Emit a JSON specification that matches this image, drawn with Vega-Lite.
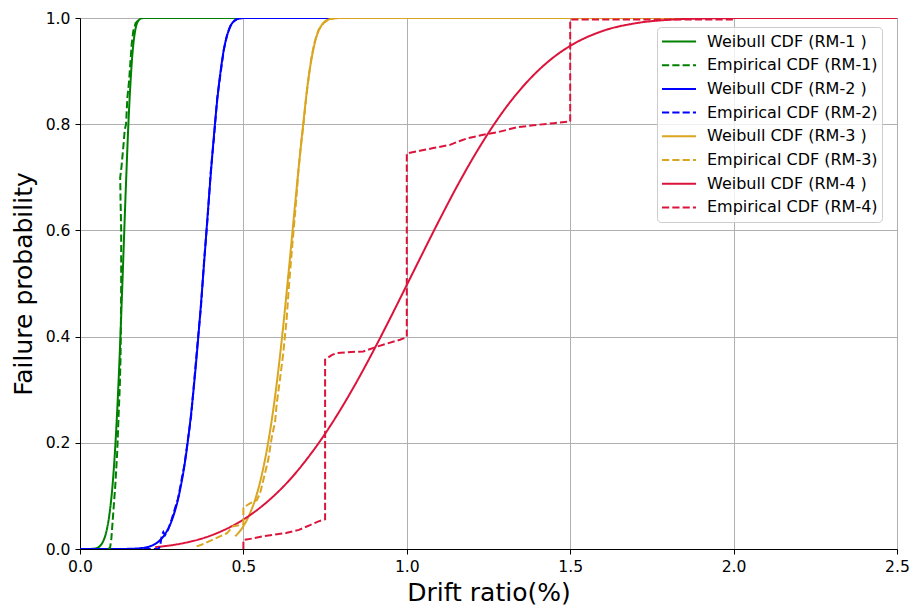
{
  "$schema": "https://vega.github.io/schema/vega-lite/v6.json",
  "width": 817,
  "height": 531,
  "autosize": {"type": "none"},
  "padding": {"left": 80, "top": 18, "right": 14, "bottom": 60},
  "background": "white",
  "datasets": {
    "weibull": [
      {"series": "Weibull CDF (RM-1 )", "drift": 0, "prob": 0},
      {"series": "Weibull CDF (RM-1 )", "drift": 0.03, "prob": 0.0001},
      {"series": "Weibull CDF (RM-1 )", "drift": 0.05, "prob": 0.0016},
      {"series": "Weibull CDF (RM-1 )", "drift": 0.06, "prob": 0.005},
      {"series": "Weibull CDF (RM-1 )", "drift": 0.07, "prob": 0.0134},
      {"series": "Weibull CDF (RM-1 )", "drift": 0.08, "prob": 0.031},
      {"series": "Weibull CDF (RM-1 )", "drift": 0.09, "prob": 0.065},
      {"series": "Weibull CDF (RM-1 )", "drift": 0.1, "prob": 0.123},
      {"series": "Weibull CDF (RM-1 )", "drift": 0.11, "prob": 0.215},
      {"series": "Weibull CDF (RM-1 )", "drift": 0.12, "prob": 0.344},
      {"series": "Weibull CDF (RM-1 )", "drift": 0.13, "prob": 0.505},
      {"series": "Weibull CDF (RM-1 )", "drift": 0.14, "prob": 0.676},
      {"series": "Weibull CDF (RM-1 )", "drift": 0.15, "prob": 0.826},
      {"series": "Weibull CDF (RM-1 )", "drift": 0.16, "prob": 0.929},
      {"series": "Weibull CDF (RM-1 )", "drift": 0.17, "prob": 0.98},
      {"series": "Weibull CDF (RM-1 )", "drift": 0.18, "prob": 0.996},
      {"series": "Weibull CDF (RM-1 )", "drift": 0.19, "prob": 0.9996},
      {"series": "Weibull CDF (RM-1 )", "drift": 0.2, "prob": 1},
      {"series": "Weibull CDF (RM-1 )", "drift": 0.3, "prob": 1},
      {"series": "Weibull CDF (RM-1 )", "drift": 2.5, "prob": 1},

      {"series": "Weibull CDF (RM-2 )", "drift": 0, "prob": 0},
      {"series": "Weibull CDF (RM-2 )", "drift": 0.1, "prob": 0},
      {"series": "Weibull CDF (RM-2 )", "drift": 0.15, "prob": 0.0003},
      {"series": "Weibull CDF (RM-2 )", "drift": 0.2, "prob": 0.0028},
      {"series": "Weibull CDF (RM-2 )", "drift": 0.22, "prob": 0.0065},
      {"series": "Weibull CDF (RM-2 )", "drift": 0.24, "prob": 0.0139},
      {"series": "Weibull CDF (RM-2 )", "drift": 0.26, "prob": 0.0278},
      {"series": "Weibull CDF (RM-2 )", "drift": 0.28, "prob": 0.0524},
      {"series": "Weibull CDF (RM-2 )", "drift": 0.3, "prob": 0.0938},
      {"series": "Weibull CDF (RM-2 )", "drift": 0.32, "prob": 0.159},
      {"series": "Weibull CDF (RM-2 )", "drift": 0.33, "prob": 0.203},
      {"series": "Weibull CDF (RM-2 )", "drift": 0.34, "prob": 0.255},
      {"series": "Weibull CDF (RM-2 )", "drift": 0.35, "prob": 0.316},
      {"series": "Weibull CDF (RM-2 )", "drift": 0.36, "prob": 0.385},
      {"series": "Weibull CDF (RM-2 )", "drift": 0.37, "prob": 0.46},
      {"series": "Weibull CDF (RM-2 )", "drift": 0.38, "prob": 0.541},
      {"series": "Weibull CDF (RM-2 )", "drift": 0.39, "prob": 0.624},
      {"series": "Weibull CDF (RM-2 )", "drift": 0.4, "prob": 0.705},
      {"series": "Weibull CDF (RM-2 )", "drift": 0.41, "prob": 0.78},
      {"series": "Weibull CDF (RM-2 )", "drift": 0.42, "prob": 0.846},
      {"series": "Weibull CDF (RM-2 )", "drift": 0.43, "prob": 0.899},
      {"series": "Weibull CDF (RM-2 )", "drift": 0.44, "prob": 0.94},
      {"series": "Weibull CDF (RM-2 )", "drift": 0.45, "prob": 0.967},
      {"series": "Weibull CDF (RM-2 )", "drift": 0.46, "prob": 0.984},
      {"series": "Weibull CDF (RM-2 )", "drift": 0.48, "prob": 0.9976},
      {"series": "Weibull CDF (RM-2 )", "drift": 0.5, "prob": 0.9998},
      {"series": "Weibull CDF (RM-2 )", "drift": 0.55, "prob": 1},
      {"series": "Weibull CDF (RM-2 )", "drift": 2.5, "prob": 1},

      {"series": "Weibull CDF (RM-3 )", "drift": 0.475, "prob": 0.024},
      {"series": "Weibull CDF (RM-3 )", "drift": 0.5, "prob": 0.043},
      {"series": "Weibull CDF (RM-3 )", "drift": 0.52, "prob": 0.067},
      {"series": "Weibull CDF (RM-3 )", "drift": 0.54, "prob": 0.101},
      {"series": "Weibull CDF (RM-3 )", "drift": 0.56, "prob": 0.15},
      {"series": "Weibull CDF (RM-3 )", "drift": 0.58, "prob": 0.216},
      {"series": "Weibull CDF (RM-3 )", "drift": 0.6, "prob": 0.302},
      {"series": "Weibull CDF (RM-3 )", "drift": 0.62, "prob": 0.409},
      {"series": "Weibull CDF (RM-3 )", "drift": 0.64, "prob": 0.532},
      {"series": "Weibull CDF (RM-3 )", "drift": 0.66, "prob": 0.661},
      {"series": "Weibull CDF (RM-3 )", "drift": 0.68, "prob": 0.783},
      {"series": "Weibull CDF (RM-3 )", "drift": 0.7, "prob": 0.89},
      {"series": "Weibull CDF (RM-3 )", "drift": 0.72, "prob": 0.957},
      {"series": "Weibull CDF (RM-3 )", "drift": 0.74, "prob": 0.987},
      {"series": "Weibull CDF (RM-3 )", "drift": 0.76, "prob": 0.997},
      {"series": "Weibull CDF (RM-3 )", "drift": 0.78, "prob": 0.9994},
      {"series": "Weibull CDF (RM-3 )", "drift": 0.8, "prob": 1},
      {"series": "Weibull CDF (RM-3 )", "drift": 2.5, "prob": 1},

      {"series": "Weibull CDF (RM-4 )", "drift": 0.23, "prob": 0.0035},
      {"series": "Weibull CDF (RM-4 )", "drift": 0.3, "prob": 0.0091},
      {"series": "Weibull CDF (RM-4 )", "drift": 0.4, "prob": 0.0253},
      {"series": "Weibull CDF (RM-4 )", "drift": 0.5, "prob": 0.0555},
      {"series": "Weibull CDF (RM-4 )", "drift": 0.55, "prob": 0.0773},
      {"series": "Weibull CDF (RM-4 )", "drift": 0.6, "prob": 0.104},
      {"series": "Weibull CDF (RM-4 )", "drift": 0.65, "prob": 0.136},
      {"series": "Weibull CDF (RM-4 )", "drift": 0.7, "prob": 0.174},
      {"series": "Weibull CDF (RM-4 )", "drift": 0.75, "prob": 0.217},
      {"series": "Weibull CDF (RM-4 )", "drift": 0.8, "prob": 0.2655},
      {"series": "Weibull CDF (RM-4 )", "drift": 0.85, "prob": 0.3186},
      {"series": "Weibull CDF (RM-4 )", "drift": 0.9, "prob": 0.3757},
      {"series": "Weibull CDF (RM-4 )", "drift": 0.95, "prob": 0.4356},
      {"series": "Weibull CDF (RM-4 )", "drift": 1.0, "prob": 0.4972},
      {"series": "Weibull CDF (RM-4 )", "drift": 1.05, "prob": 0.559},
      {"series": "Weibull CDF (RM-4 )", "drift": 1.1, "prob": 0.62},
      {"series": "Weibull CDF (RM-4 )", "drift": 1.15, "prob": 0.6788},
      {"series": "Weibull CDF (RM-4 )", "drift": 1.2, "prob": 0.7337},
      {"series": "Weibull CDF (RM-4 )", "drift": 1.25, "prob": 0.7838},
      {"series": "Weibull CDF (RM-4 )", "drift": 1.3, "prob": 0.8286},
      {"series": "Weibull CDF (RM-4 )", "drift": 1.35, "prob": 0.8672},
      {"series": "Weibull CDF (RM-4 )", "drift": 1.4, "prob": 0.8998},
      {"series": "Weibull CDF (RM-4 )", "drift": 1.45, "prob": 0.9265},
      {"series": "Weibull CDF (RM-4 )", "drift": 1.5, "prob": 0.9475},
      {"series": "Weibull CDF (RM-4 )", "drift": 1.6, "prob": 0.9757},
      {"series": "Weibull CDF (RM-4 )", "drift": 1.7, "prob": 0.9901},
      {"series": "Weibull CDF (RM-4 )", "drift": 1.8, "prob": 0.9966},
      {"series": "Weibull CDF (RM-4 )", "drift": 1.9, "prob": 0.999},
      {"series": "Weibull CDF (RM-4 )", "drift": 2.0, "prob": 0.9998},
      {"series": "Weibull CDF (RM-4 )", "drift": 2.2, "prob": 1},
      {"series": "Weibull CDF (RM-4 )", "drift": 2.5, "prob": 1}
    ],
    "empirical": [
      {"series": "Empirical CDF (RM-1)", "drift": 0.085, "prob": 0},
      {"series": "Empirical CDF (RM-1)", "drift": 0.092, "prob": 0.002},
      {"series": "Empirical CDF (RM-1)", "drift": 0.096, "prob": 0.02},
      {"series": "Empirical CDF (RM-1)", "drift": 0.102, "prob": 0.07},
      {"series": "Empirical CDF (RM-1)", "drift": 0.108, "prob": 0.12},
      {"series": "Empirical CDF (RM-1)", "drift": 0.114, "prob": 0.184},
      {"series": "Empirical CDF (RM-1)", "drift": 0.118, "prob": 0.25},
      {"series": "Empirical CDF (RM-1)", "drift": 0.122, "prob": 0.31},
      {"series": "Empirical CDF (RM-1)", "drift": 0.124, "prob": 0.36},
      {"series": "Empirical CDF (RM-1)", "drift": 0.125, "prob": 0.41},
      {"series": "Empirical CDF (RM-1)", "drift": 0.126, "prob": 0.5},
      {"series": "Empirical CDF (RM-1)", "drift": 0.126, "prob": 0.6},
      {"series": "Empirical CDF (RM-1)", "drift": 0.124, "prob": 0.66},
      {"series": "Empirical CDF (RM-1)", "drift": 0.123, "prob": 0.7},
      {"series": "Empirical CDF (RM-1)", "drift": 0.127, "prob": 0.72},
      {"series": "Empirical CDF (RM-1)", "drift": 0.133, "prob": 0.76},
      {"series": "Empirical CDF (RM-1)", "drift": 0.137, "prob": 0.79},
      {"series": "Empirical CDF (RM-1)", "drift": 0.141, "prob": 0.8},
      {"series": "Empirical CDF (RM-1)", "drift": 0.145, "prob": 0.85},
      {"series": "Empirical CDF (RM-1)", "drift": 0.15, "prob": 0.88},
      {"series": "Empirical CDF (RM-1)", "drift": 0.153, "prob": 0.906},
      {"series": "Empirical CDF (RM-1)", "drift": 0.158, "prob": 0.95},
      {"series": "Empirical CDF (RM-1)", "drift": 0.163, "prob": 0.975},
      {"series": "Empirical CDF (RM-1)", "drift": 0.17, "prob": 0.99},
      {"series": "Empirical CDF (RM-1)", "drift": 0.184, "prob": 1},

      {"series": "Empirical CDF (RM-2)", "drift": 0.1, "prob": 0},
      {"series": "Empirical CDF (RM-2)", "drift": 0.24, "prob": 0},
      {"series": "Empirical CDF (RM-2)", "drift": 0.245, "prob": 0.005},
      {"series": "Empirical CDF (RM-2)", "drift": 0.25, "prob": 0.025},
      {"series": "Empirical CDF (RM-2)", "drift": 0.255, "prob": 0.032},
      {"series": "Empirical CDF (RM-2)", "drift": 0.26, "prob": 0.026},
      {"series": "Empirical CDF (RM-2)", "drift": 0.27, "prob": 0.037},
      {"series": "Empirical CDF (RM-2)", "drift": 0.28, "prob": 0.055},
      {"series": "Empirical CDF (RM-2)", "drift": 0.3, "prob": 0.095},
      {"series": "Empirical CDF (RM-2)", "drift": 0.32, "prob": 0.16},
      {"series": "Empirical CDF (RM-2)", "drift": 0.33, "prob": 0.205},
      {"series": "Empirical CDF (RM-2)", "drift": 0.34, "prob": 0.25},
      {"series": "Empirical CDF (RM-2)", "drift": 0.35, "prob": 0.32},
      {"series": "Empirical CDF (RM-2)", "drift": 0.36, "prob": 0.39},
      {"series": "Empirical CDF (RM-2)", "drift": 0.37, "prob": 0.455},
      {"series": "Empirical CDF (RM-2)", "drift": 0.38, "prob": 0.545},
      {"series": "Empirical CDF (RM-2)", "drift": 0.39, "prob": 0.62},
      {"series": "Empirical CDF (RM-2)", "drift": 0.4, "prob": 0.71},
      {"series": "Empirical CDF (RM-2)", "drift": 0.41, "prob": 0.775},
      {"series": "Empirical CDF (RM-2)", "drift": 0.42, "prob": 0.85},
      {"series": "Empirical CDF (RM-2)", "drift": 0.43, "prob": 0.895},
      {"series": "Empirical CDF (RM-2)", "drift": 0.44, "prob": 0.94},
      {"series": "Empirical CDF (RM-2)", "drift": 0.45, "prob": 0.968},
      {"series": "Empirical CDF (RM-2)", "drift": 0.46, "prob": 0.985},
      {"series": "Empirical CDF (RM-2)", "drift": 0.47, "prob": 0.993},
      {"series": "Empirical CDF (RM-2)", "drift": 0.48, "prob": 0.998},
      {"series": "Empirical CDF (RM-2)", "drift": 0.49, "prob": 1},

      {"series": "Empirical CDF (RM-3)", "drift": 0.357, "prob": 0.005},
      {"series": "Empirical CDF (RM-3)", "drift": 0.38, "prob": 0.01},
      {"series": "Empirical CDF (RM-3)", "drift": 0.418, "prob": 0.021},
      {"series": "Empirical CDF (RM-3)", "drift": 0.45, "prob": 0.03},
      {"series": "Empirical CDF (RM-3)", "drift": 0.469, "prob": 0.043},
      {"series": "Empirical CDF (RM-3)", "drift": 0.49, "prob": 0.045},
      {"series": "Empirical CDF (RM-3)", "drift": 0.5, "prob": 0.047},
      {"series": "Empirical CDF (RM-3)", "drift": 0.5, "prob": 0.077},
      {"series": "Empirical CDF (RM-3)", "drift": 0.51, "prob": 0.082},
      {"series": "Empirical CDF (RM-3)", "drift": 0.52, "prob": 0.086},
      {"series": "Empirical CDF (RM-3)", "drift": 0.541, "prob": 0.092},
      {"series": "Empirical CDF (RM-3)", "drift": 0.551, "prob": 0.105},
      {"series": "Empirical CDF (RM-3)", "drift": 0.561, "prob": 0.13},
      {"series": "Empirical CDF (RM-3)", "drift": 0.576, "prob": 0.168},
      {"series": "Empirical CDF (RM-3)", "drift": 0.587, "prob": 0.211},
      {"series": "Empirical CDF (RM-3)", "drift": 0.597, "prob": 0.24},
      {"series": "Empirical CDF (RM-3)", "drift": 0.602, "prob": 0.274},
      {"series": "Empirical CDF (RM-3)", "drift": 0.612, "prob": 0.32},
      {"series": "Empirical CDF (RM-3)", "drift": 0.622, "prob": 0.369},
      {"series": "Empirical CDF (RM-3)", "drift": 0.632, "prob": 0.431},
      {"series": "Empirical CDF (RM-3)", "drift": 0.64, "prob": 0.5},
      {"series": "Empirical CDF (RM-3)", "drift": 0.648, "prob": 0.56},
      {"series": "Empirical CDF (RM-3)", "drift": 0.655, "prob": 0.61},
      {"series": "Empirical CDF (RM-3)", "drift": 0.662, "prob": 0.66},
      {"series": "Empirical CDF (RM-3)", "drift": 0.668, "prob": 0.71},
      {"series": "Empirical CDF (RM-3)", "drift": 0.676, "prob": 0.76},
      {"series": "Empirical CDF (RM-3)", "drift": 0.684, "prob": 0.8},
      {"series": "Empirical CDF (RM-3)", "drift": 0.692, "prob": 0.85},
      {"series": "Empirical CDF (RM-3)", "drift": 0.7, "prob": 0.89},
      {"series": "Empirical CDF (RM-3)", "drift": 0.708, "prob": 0.925},
      {"series": "Empirical CDF (RM-3)", "drift": 0.718, "prob": 0.955},
      {"series": "Empirical CDF (RM-3)", "drift": 0.73, "prob": 0.978},
      {"series": "Empirical CDF (RM-3)", "drift": 0.745, "prob": 0.99},
      {"series": "Empirical CDF (RM-3)", "drift": 0.76, "prob": 0.997},
      {"series": "Empirical CDF (RM-3)", "drift": 0.78, "prob": 1},

      {"series": "Empirical CDF (RM-4)", "drift": 0.5, "prob": 0},
      {"series": "Empirical CDF (RM-4)", "drift": 0.5, "prob": 0.017},
      {"series": "Empirical CDF (RM-4)", "drift": 0.53, "prob": 0.02},
      {"series": "Empirical CDF (RM-4)", "drift": 0.561, "prob": 0.024},
      {"series": "Empirical CDF (RM-4)", "drift": 0.63, "prob": 0.03},
      {"series": "Empirical CDF (RM-4)", "drift": 0.67, "prob": 0.036},
      {"series": "Empirical CDF (RM-4)", "drift": 0.704, "prob": 0.045},
      {"series": "Empirical CDF (RM-4)", "drift": 0.73, "prob": 0.052},
      {"series": "Empirical CDF (RM-4)", "drift": 0.75, "prob": 0.056},
      {"series": "Empirical CDF (RM-4)", "drift": 0.75, "prob": 0.357},
      {"series": "Empirical CDF (RM-4)", "drift": 0.77, "prob": 0.365},
      {"series": "Empirical CDF (RM-4)", "drift": 0.785, "prob": 0.369},
      {"series": "Empirical CDF (RM-4)", "drift": 0.83, "prob": 0.371},
      {"series": "Empirical CDF (RM-4)", "drift": 0.867, "prob": 0.372},
      {"series": "Empirical CDF (RM-4)", "drift": 0.908, "prob": 0.381},
      {"series": "Empirical CDF (RM-4)", "drift": 0.94, "prob": 0.387},
      {"series": "Empirical CDF (RM-4)", "drift": 0.979, "prob": 0.394},
      {"series": "Empirical CDF (RM-4)", "drift": 1.0, "prob": 0.399},
      {"series": "Empirical CDF (RM-4)", "drift": 1.0, "prob": 0.745},
      {"series": "Empirical CDF (RM-4)", "drift": 1.04, "prob": 0.75},
      {"series": "Empirical CDF (RM-4)", "drift": 1.081, "prob": 0.755},
      {"series": "Empirical CDF (RM-4)", "drift": 1.132, "prob": 0.761},
      {"series": "Empirical CDF (RM-4)", "drift": 1.16, "prob": 0.768},
      {"series": "Empirical CDF (RM-4)", "drift": 1.183, "prob": 0.773},
      {"series": "Empirical CDF (RM-4)", "drift": 1.234, "prob": 0.78},
      {"series": "Empirical CDF (RM-4)", "drift": 1.285, "prob": 0.786},
      {"series": "Empirical CDF (RM-4)", "drift": 1.336, "prob": 0.794},
      {"series": "Empirical CDF (RM-4)", "drift": 1.387, "prob": 0.798},
      {"series": "Empirical CDF (RM-4)", "drift": 1.45, "prob": 0.802},
      {"series": "Empirical CDF (RM-4)", "drift": 1.5, "prob": 0.805},
      {"series": "Empirical CDF (RM-4)", "drift": 1.5, "prob": 0.997},
      {"series": "Empirical CDF (RM-4)", "drift": 2.0, "prob": 0.997}
    ]
  },
  "encoding": {
    "x": {
      "field": "drift", "type": "quantitative",
      "scale": {"domain": [0, 2.5], "nice": false, "zero": false},
      "axis": {"title": "Drift ratio(%)", "values": [0, 0.5, 1, 1.5, 2, 2.5], "format": ".1f", "labelPadding": 5, "titlePadding": 6, "labelFlush": false}
    },
    "y": {
      "field": "prob", "type": "quantitative",
      "scale": {"domain": [0, 1], "nice": false},
      "axis": {"title": "Failure probability", "values": [0, 0.2, 0.4, 0.6, 0.8, 1.0], "format": ".1f", "labelPadding": 5, "titlePadding": 9, "labelFlush": false}
    },
    "color": {
      "field": "series", "type": "nominal",
      "scale": {
        "domain": ["Weibull CDF (RM-1 )", "Empirical CDF (RM-1)", "Weibull CDF (RM-2 )", "Empirical CDF (RM-2)", "Weibull CDF (RM-3 )", "Empirical CDF (RM-3)", "Weibull CDF (RM-4 )", "Empirical CDF (RM-4)"],
        "range": ["#008000", "#008000", "#0000ff", "#0000ff", "#daa520", "#daa520", "#dc143c", "#dc143c"]
      },
      "legend": {"title": null}
    },
    "strokeDash": {
      "field": "series", "type": "nominal",
      "scale": {
        "domain": ["Weibull CDF (RM-1 )", "Empirical CDF (RM-1)", "Weibull CDF (RM-2 )", "Empirical CDF (RM-2)", "Weibull CDF (RM-3 )", "Empirical CDF (RM-3)", "Weibull CDF (RM-4 )", "Empirical CDF (RM-4)"],
        "range": [[1, 0], [7.2, 3.1], [1, 0], [7.2, 3.1], [1, 0], [7.2, 3.1], [1, 0], [7.2, 3.1]]
      },
      "legend": {"title": null}
    },
    "order": {"value": null}
  },
  "layer": [
    {"data": {"name": "weibull"}, "mark": {"type": "line", "strokeWidth": 2, "interpolate": "monotone", "clip": true}},
    {"data": {"name": "empirical"}, "mark": {"type": "line", "strokeWidth": 2, "clip": true}}
  ],
  "config": {
    "font": "DejaVu Sans",
    "view": {"stroke": "black", "strokeWidth": 1},
    "axis": {
      "domainColor": "black", "tickColor": "black", "labelColor": "black", "titleColor": "black",
      "labelFont": "DejaVu Sans", "titleFont": "DejaVu Sans",
      "labelFontSize": 15.6, "titleFontSize": 25, "titleFontWeight": "normal",
      "gridColor": "#b0b0b0", "gridWidth": 1, "tickSize": 5, "tickWidth": 1, "domainWidth": 1
    },
    "legend": {
      "orient": "none", "legendX": 577, "legendY": 9,
      "labelFont": "DejaVu Sans", "labelFontSize": 16, "labelColor": "black",
      "symbolType": "stroke", "symbolSize": 1156, "symbolStrokeWidth": 2,
      "labelOffset": 10, "clipHeight": 21, "rowPadding": 2.7,
      "padding": 4, "strokeColor": "#cccccc", "fillColor": "rgba(255,255,255,0.8)", "cornerRadius": 4,
      "labelLimit": 400
    }
  }
}
